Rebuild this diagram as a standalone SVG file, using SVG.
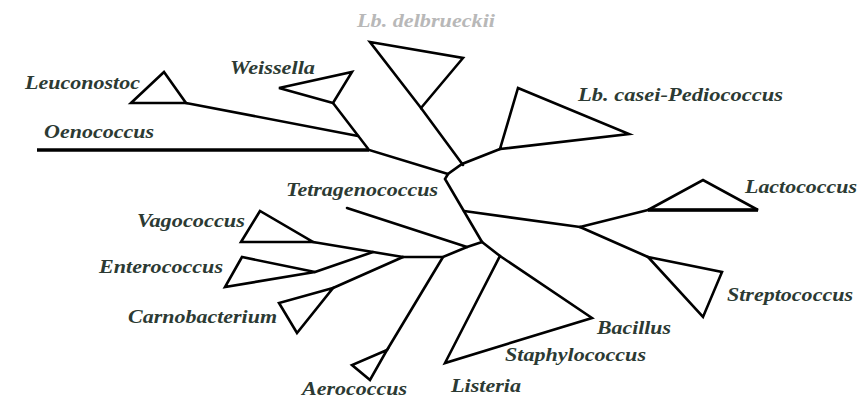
<svg xmlns="http://www.w3.org/2000/svg" width="860" height="398" viewBox="0 0 860 398">
<style>
.b{fill:none;stroke:#000;stroke-width:2.6;stroke-linejoin:miter;stroke-linecap:round}
.t{fill:none;stroke:#000;stroke-width:2.6;stroke-linejoin:miter}
.l{font-family:"Liberation Serif","Times New Roman",serif;font-style:italic;font-weight:bold;font-size:19.5px;fill:#2c3a33}
.g{fill:#b8b8b8}
</style>
<rect width="860" height="398" fill="#fff"/>
<g id="connectors">
<polyline class="b" points="186,103 358,136"/>
<polyline class="b" points="333,103 369,150 448,174"/>
<polyline class="b" points="421,108 463,165"/>
<polyline class="b" points="500,149 462,164 448,174 445,179 482,242"/>
<polyline class="b" points="464,211 580,227"/>
<polyline class="b" points="580,227 648,210"/>
<polyline class="b" points="580,227 648,257"/>
<polyline class="b" points="482,242 500,256"/>
<polyline class="b" points="403,257 443,257 467,247 482,242"/>
<polyline class="b" points="443,257 387,350"/>
<polyline class="b" points="313,242 373,252 403,257"/>
<polyline class="b" points="315,272 373,252"/>
<polyline class="b" points="403,257 333,288"/>
</g>
<g id="leuconostoc"><polygon class="t" points="164,72 131,103 186,103"/><text class="l" x="25" y="89" textLength="115" lengthAdjust="spacingAndGlyphs">Leuconostoc</text></g>
<g id="oenococcus"><line x1="37" y1="150" x2="369" y2="150" stroke="#000" stroke-width="3.6"/><text class="l" x="44" y="138" textLength="110" lengthAdjust="spacingAndGlyphs">Oenococcus</text></g>
<g id="weissella"><polygon class="t" points="279,88 352,72 333,103"/><text class="l" x="230" y="74" textLength="85" lengthAdjust="spacingAndGlyphs">Weissella</text></g>
<g id="delbrueckii"><polygon class="t" points="370,42 463,58 421,108"/><text class="l g" x="357" y="27" textLength="138" lengthAdjust="spacingAndGlyphs">Lb. delbrueckii</text></g>
<g id="casei"><polygon class="t" points="518,88 629,134 500,149"/><text class="l" x="578" y="101" textLength="205" lengthAdjust="spacingAndGlyphs">Lb. casei-Pediococcus</text></g>
<g id="lactococcus"><polygon class="t" points="648,210 703,180 758,210"/><line x1="648" y1="210" x2="758" y2="210" stroke="#000" stroke-width="3.4"/><text class="l" x="745" y="193" textLength="112" lengthAdjust="spacingAndGlyphs">Lactococcus</text></g>
<g id="streptococcus"><polygon class="t" points="648,257 722,272 703,317"/><text class="l" x="727" y="301" textLength="126" lengthAdjust="spacingAndGlyphs">Streptococcus</text></g>
<g id="bacillus"><polygon class="t" points="500,256 592,318 445,363"/><text class="l" x="597" y="334" textLength="74" lengthAdjust="spacingAndGlyphs">Bacillus</text><text class="l" x="505" y="361" textLength="141" lengthAdjust="spacingAndGlyphs">Staphylococcus</text><text class="l" x="451" y="392" textLength="70" lengthAdjust="spacingAndGlyphs">Listeria</text></g>
<g id="aerococcus"><polygon class="t" points="387,350 352,365 370,380"/><text class="l" x="302" y="395" textLength="105" lengthAdjust="spacingAndGlyphs">Aerococcus</text></g>
<g id="carnobacterium"><polygon class="t" points="333,288 279,303 297,333"/><text class="l" x="128" y="323" textLength="149" lengthAdjust="spacingAndGlyphs">Carnobacterium</text></g>
<g id="enterococcus"><polygon class="t" points="242,257 225,287 315,272"/><text class="l" x="99" y="273" textLength="124" lengthAdjust="spacingAndGlyphs">Enterococcus</text></g>
<g id="vagococcus"><polygon class="t" points="260,211 241,242 313,242"/><text class="l" x="137" y="227" textLength="108" lengthAdjust="spacingAndGlyphs">Vagococcus</text></g>
<g id="tetragenococcus"><line class="b" x1="347" y1="208" x2="467" y2="247"/><text class="l" x="286" y="196" textLength="152" lengthAdjust="spacingAndGlyphs">Tetragenococcus</text></g>
</svg>
